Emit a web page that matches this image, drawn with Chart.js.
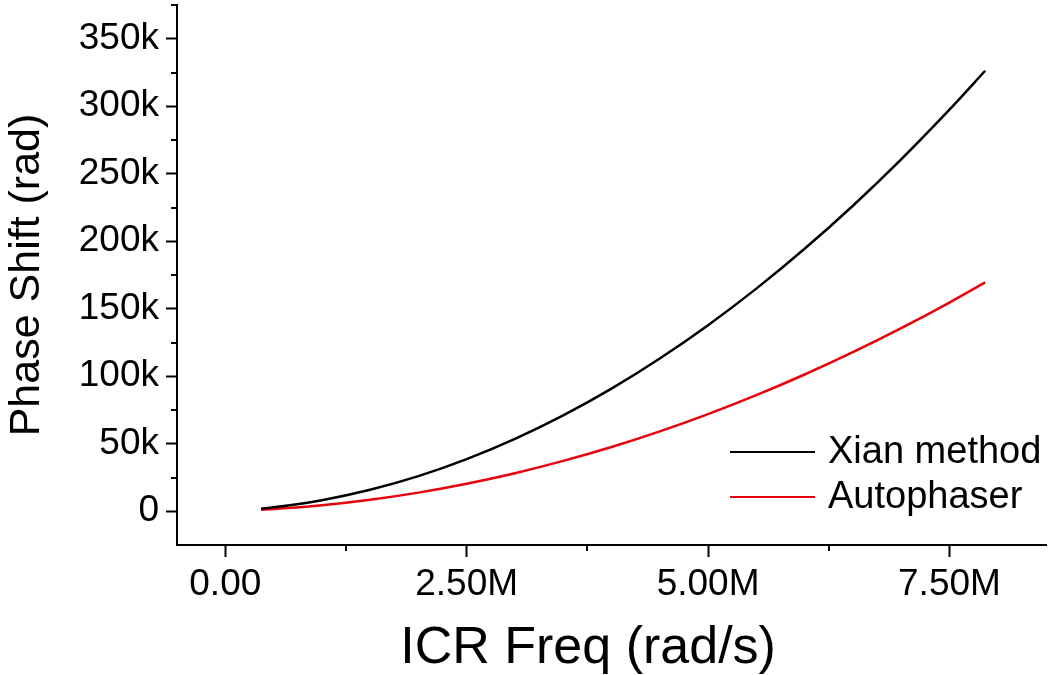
<!DOCTYPE html>
<html>
<head>
<meta charset="utf-8">
<script src="https://cdn.jsdelivr.net/npm/chart.js@4/dist/chart.umd.min.js"></script>
<style>
  html, body { margin: 0; padding: 0; background: #fff; }
  #wrap { width: 1050px; height: 675px; }
</style>
</head>
<body>
<div id="wrap"><canvas id="phaseChart" width="1050" height="675"></canvas></div>
<script>
// values: frequency in M rad/s, phase shift in k rad
const freq   = [0.37, 0.5, 1.0, 1.5, 2.0, 2.5, 3.0, 3.5, 4.0, 4.5, 5.0, 5.5, 6.0, 6.5, 7.0, 7.5, 7.87];
const xian   = [1.9, 2.9, 8.2, 15.9, 26.0, 38.6, 53.6, 71.0, 90.8, 113.1, 137.8, 164.9, 194.4, 226.3, 260.7, 297.5, 326.3];
const autoph = [1.1, 1.6, 4.4, 8.5, 13.8, 20.4, 28.2, 37.3, 47.6, 59.2, 72.0, 86.0, 101.3, 117.8, 135.6, 154.6, 169.5];

const seriesNames  = ['Xian method', 'Autophaser'];
const seriesColors = ['#000000', '#e8000b'];

// tick positions (major ones get a label)
const xTicks = [0, 1.25, 2.5, 3.75, 5.0, 6.25, 7.5];
const yTicks = [0, 25, 50, 75, 100, 125, 150, 175, 200, 225, 250, 275, 300, 325, 350, 375];

const FONT = 'Liberation Sans, Arial, sans-serif';

const isMajorX = v => Math.abs(v / 2.5 - Math.round(v / 2.5)) < 1e-6;
const isMajorY = v => v % 50 === 0;

// short ticks in between the labelled ones
const minorTicks = {
  id: 'minorTicks',
  afterDraw(chart) {
    const ctx = chart.ctx;
    const xs = chart.scales.x, ys = chart.scales.y;
    ctx.save();
    ctx.strokeStyle = '#000';
    ctx.lineWidth = 2;
    ctx.beginPath();
    xTicks.filter(v => !isMajorX(v)).forEach(v => {
      const px = Math.round(xs.getPixelForValue(v));
      ctx.moveTo(px, xs.top);
      ctx.lineTo(px, xs.top + 6);
    });
    yTicks.filter(v => !isMajorY(v)).forEach(v => {
      const py = Math.round(ys.getPixelForValue(v));
      ctx.moveTo(ys.right, py);
      ctx.lineTo(ys.right - 6, py);
    });
    ctx.stroke();
    ctx.restore();
  }
};

// legend inside the plot, lower right
const insideLegend = {
  id: 'insideLegend',
  afterDraw(chart) {
    const ctx = chart.ctx;
    ctx.save();
    ctx.font = '38px ' + FONT;
    ctx.textBaseline = 'middle';
    chart.data.datasets.forEach((ds, i) => {
      const y = 452 + i * 45;
      ctx.strokeStyle = ds.borderColor;
      ctx.lineWidth = 2;
      ctx.beginPath();
      ctx.moveTo(730, y);
      ctx.lineTo(815, y);
      ctx.stroke();
      ctx.fillStyle = '#000';
      ctx.fillText(ds.label, 828, y + 1);
    });
    ctx.restore();
  }
};

const ctx = document.getElementById('phaseChart').getContext('2d');

new Chart(ctx, {
  type: 'line',
  data: {
    datasets: [
      {
        label: seriesNames[0],
        data: freq.map((f, i) => ({ x: f, y: xian[i] })),
        borderColor: seriesColors[0],
        borderWidth: 2.5,
        pointRadius: 0,
        cubicInterpolationMode: 'monotone',
        fill: false
      },
      {
        label: seriesNames[1],
        data: freq.map((f, i) => ({ x: f, y: autoph[i] })),
        borderColor: seriesColors[1],
        borderWidth: 2.5,
        pointRadius: 0,
        cubicInterpolationMode: 'monotone',
        fill: false
      }
    ]
  },
  options: {
    responsive: false,
    animation: false,
    layout: { padding: { top: 5, right: 4, left: 0, bottom: 0 } },
    plugins: {
      legend: { display: false },
      tooltip: { enabled: false }
    },
    scales: {
      x: {
        type: 'linear',
        min: -0.5,
        max: 8.5,
        afterBuildTicks: s => { s.ticks = xTicks.map(v => ({ value: v })); },
        afterFit: s => { s.height = 130; s.paddingLeft = 0; s.paddingRight = 0; },
        border: { display: true, color: '#000', width: 2 },
        grid: {
          drawOnChartArea: false,
          tickLength: 12,
          tickWidth: 2,
          tickColor: c => (c.tick && isMajorX(c.tick.value)) ? '#000' : 'rgba(0,0,0,0)'
        },
        ticks: {
          autoSkip: false,
          maxRotation: 0,
          padding: 6,
          color: '#000',
          font: { family: FONT, size: 37 },
          callback: v => isMajorX(v) ? (v === 0 ? '0.00' : v.toFixed(2) + 'M') : ''
        },
        title: {
          display: true,
          text: 'ICR Freq (rad/s)\u2002\u2009\u2009',
          color: '#000',
          font: { family: FONT, size: 52, lineHeight: 1 },
          padding: { top: 0, bottom: 0 }
        }
      },
      y: {
        type: 'linear',
        min: -25,
        max: 375,
        afterBuildTicks: s => { s.ticks = yTicks.map(v => ({ value: v })); },
        afterFit: s => { s.width = 177; s.paddingTop = 0; s.paddingBottom = 0; },
        border: { display: true, color: '#000', width: 2 },
        grid: {
          drawOnChartArea: false,
          tickLength: 11,
          tickWidth: 2,
          tickColor: c => (c.tick && isMajorY(c.tick.value)) ? '#000' : 'rgba(0,0,0,0)'
        },
        ticks: {
          autoSkip: false,
          padding: 7,
          color: '#000',
          font: { family: FONT, size: 37 },
          callback: v => isMajorY(v) ? (v === 0 ? '0' : v + 'k') : ''
        },
        title: {
          display: true,
          text: 'Phase Shift (rad)',
          color: '#000',
          font: { family: FONT, size: 43, lineHeight: 1 },
          padding: { top: 6, bottom: 0 }
        }
      }
    }
  },
  plugins: [minorTicks, insideLegend]
});
</script>
</body>
</html>
